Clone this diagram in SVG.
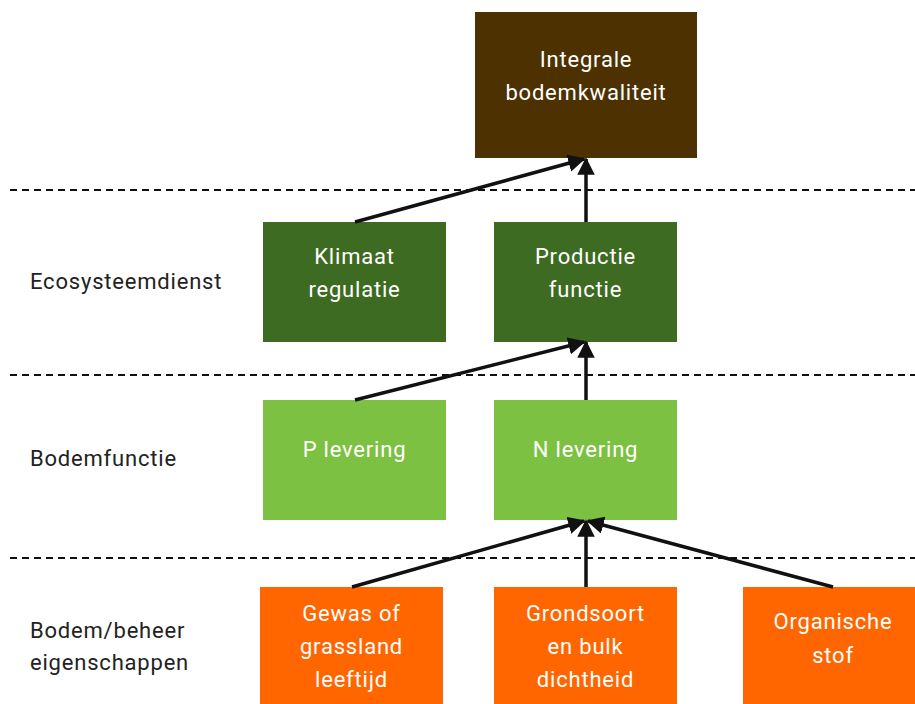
<svg xmlns="http://www.w3.org/2000/svg" width="915" height="704" viewBox="0 0 915 704">
<defs>
<marker id="ah" viewBox="0 0 10 10" refX="9" refY="5" markerWidth="5" markerHeight="5" orient="auto" markerUnits="strokeWidth">
<path d="M0,0 L10,5 L0,10 z" fill="#111"/>
</marker>
<style>
.t{font-family:Roboto,"Liberation Sans",sans-serif;font-size:22px;letter-spacing:0.8px;fill:#fff;text-anchor:middle}
.l{font-family:Roboto,"Liberation Sans",sans-serif;font-size:22px;letter-spacing:0.8px;fill:#222}
.d{stroke:#111;stroke-width:2;stroke-dasharray:7,5;fill:none}
.c{stroke:#111;stroke-width:3.5;fill:none;marker-end:url(#ah)}
</style>
</defs>
<rect width="915" height="704" fill="#fff"/>
<g id="dividers">
<line class="d" x1="10" y1="190" x2="915" y2="190"/>
<line class="d" x1="10" y1="375" x2="915" y2="375"/>
<line class="d" x1="10" y1="558" x2="915" y2="558"/>
</g>
<g id="labels">
<text class="l" x="30" y="289">Ecosysteemdienst</text>
<text class="l" x="30" y="466">Bodemfunctie</text>
<text class="l" x="30" y="638">Bodem/beheer</text>
<text class="l" x="30" y="670">eigenschappen</text>
</g>
<g id="integrale">
<rect x="475" y="12" width="222" height="146" fill="#4d3100"/>
<text class="t" x="586" y="67">Integrale</text>
<text class="t" x="586" y="100">bodemkwaliteit</text>
</g>
<g id="klimaat">
<rect x="263" y="222" width="183" height="120" fill="#3d6b21"/>
<text class="t" x="354.5" y="264">Klimaat</text>
<text class="t" x="354.5" y="297">regulatie</text>
</g>
<g id="productie">
<rect x="494" y="222" width="183" height="120" fill="#3d6b21"/>
<text class="t" x="585.5" y="264">Productie</text>
<text class="t" x="585.5" y="297">functie</text>
</g>
<g id="plevering">
<rect x="263" y="400" width="183" height="120" fill="#7dc142"/>
<text class="t" x="354.5" y="457">P levering</text>
</g>
<g id="nlevering">
<rect x="494" y="400" width="183" height="120" fill="#7dc142"/>
<text class="t" x="585.5" y="457">N levering</text>
</g>
<g id="gewas">
<rect x="260" y="587" width="183" height="117" fill="#ff6600"/>
<text class="t" x="351.5" y="621">Gewas of</text>
<text class="t" x="351.5" y="654">grassland</text>
<text class="t" x="351.5" y="687">leeftijd</text>
</g>
<g id="grondsoort">
<rect x="494" y="587" width="183" height="117" fill="#ff6600"/>
<text class="t" x="585.5" y="621">Grondsoort</text>
<text class="t" x="585.5" y="654">en bulk</text>
<text class="t" x="585.5" y="687">dichtheid</text>
</g>
<g id="organische">
<rect x="743" y="587" width="172" height="117" fill="#ff6600"/>
<text class="t" x="833" y="629">Organische</text>
<text class="t" x="833" y="663">stof</text>
</g>
<g id="connectors">
<line class="c" x1="355" y1="222" x2="584" y2="159"/>
<line class="c" x1="586" y1="222" x2="586" y2="159"/>
<line class="c" x1="355" y1="400" x2="584" y2="342"/>
<line class="c" x1="586" y1="400" x2="586" y2="342"/>
<line class="c" x1="352" y1="587" x2="584" y2="521"/>
<line class="c" x1="586" y1="587" x2="586" y2="521"/>
<line class="c" x1="833" y1="587" x2="588" y2="521"/>
</g>
</svg>
